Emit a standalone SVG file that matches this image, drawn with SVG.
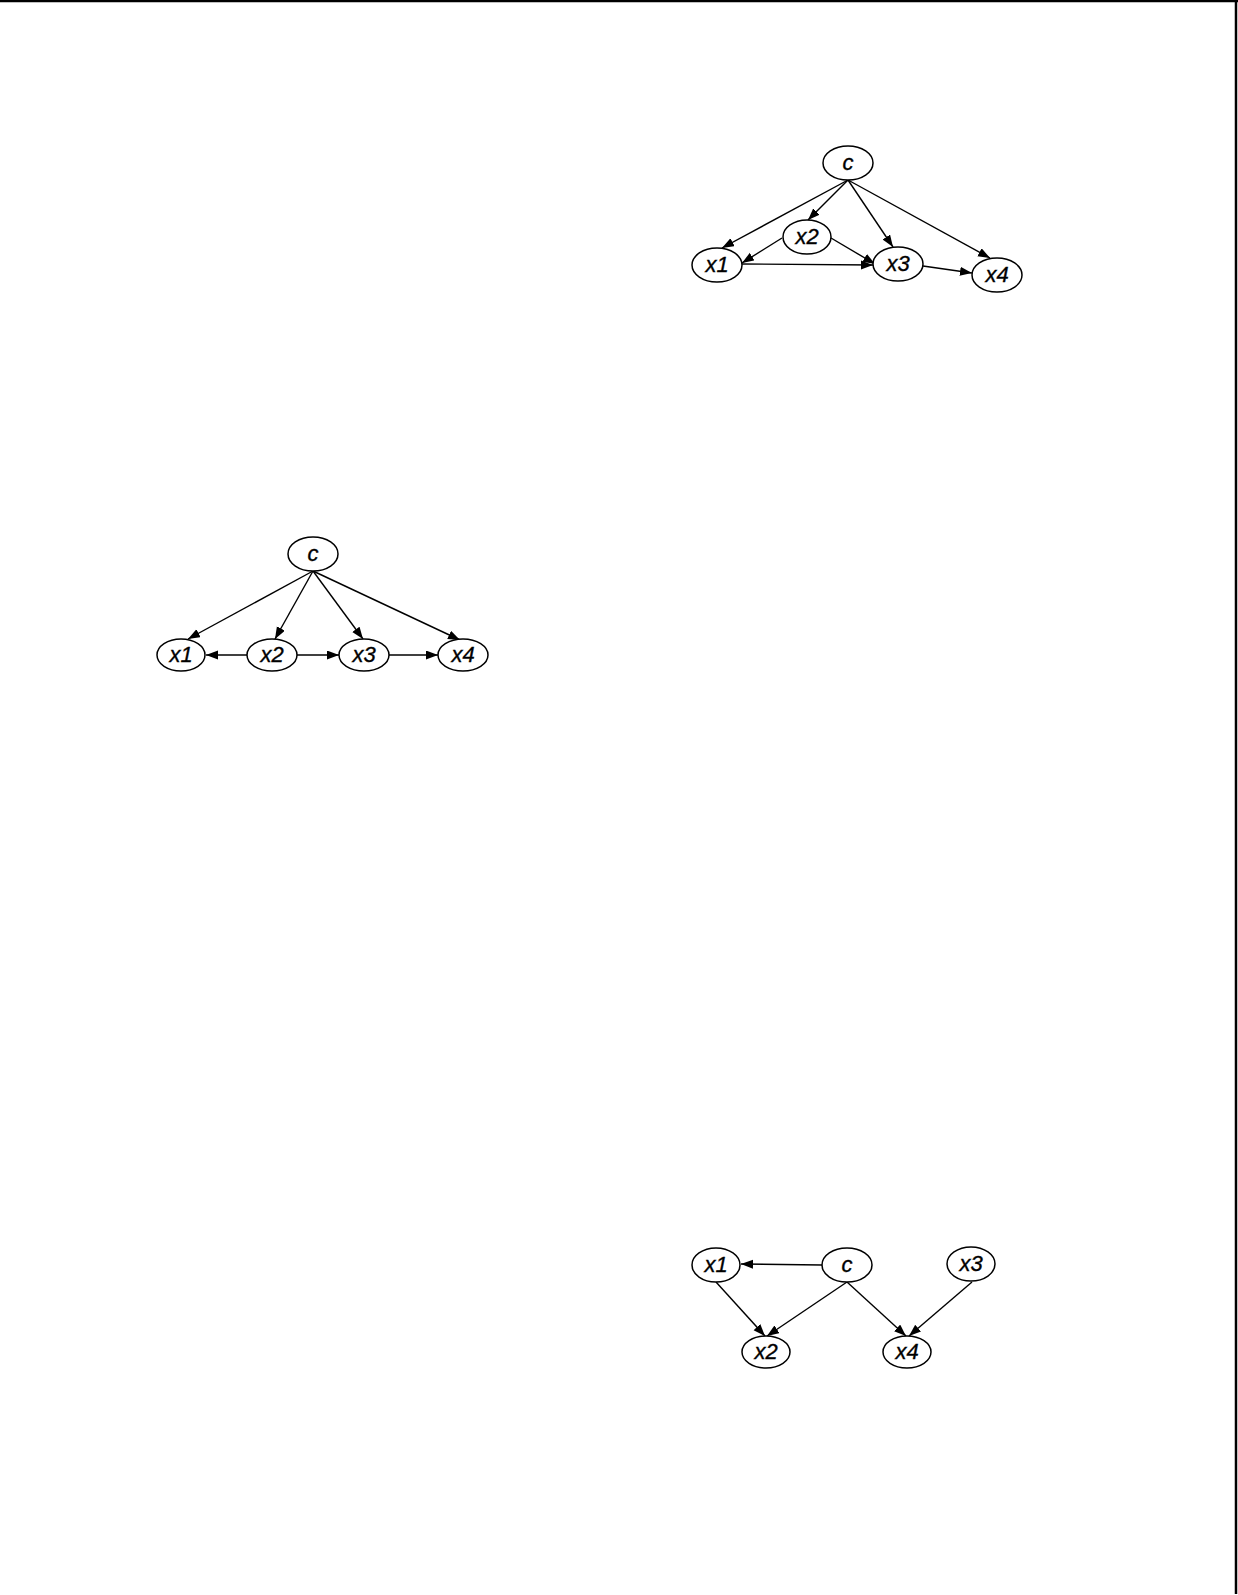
<svg xmlns="http://www.w3.org/2000/svg" width="1238" height="1595" viewBox="0 0 1238 1595">
<style>
.n ellipse{fill:#fff;stroke:#000;stroke-width:1.5}
.n text{font-family:"Liberation Sans",Arial,sans-serif;font-style:italic;font-size:22px;text-anchor:middle;fill:#000;stroke:#000;stroke-width:0.35}
.e line{stroke:#000;stroke-width:1.4;marker-end:url(#ah)}
.b{stroke:#000;stroke-width:2.5;fill:none}
</style>
<defs>
<marker id="ah" markerUnits="userSpaceOnUse" markerWidth="13" markerHeight="10" refX="12" refY="4.5" orient="auto">
<path d="M0,0 L12,4.5 L0,9 z" fill="#000"/>
</marker>
</defs>
<rect width="1238" height="1595" fill="#fff"/>
<line class="b" x1="0" y1="1" x2="1238" y2="1"/>
<line class="b" x1="1236" y1="0" x2="1236" y2="1594"/>

<g id="connectors" class="e">
<!-- diagram 1 -->
<line x1="848" y1="180" x2="722" y2="248"/>
<line x1="848" y1="180" x2="808" y2="220"/>
<line x1="848" y1="180" x2="893" y2="247"/>
<line x1="848" y1="180" x2="990" y2="258"/>
<line x1="782" y1="238" x2="742" y2="263"/>
<line x1="831" y1="238" x2="875" y2="264"/>
<line x1="742" y1="264" x2="873" y2="265"/>
<line x1="923" y1="266" x2="972" y2="273"/>
<!-- diagram 2 -->
<line x1="313" y1="571" x2="188" y2="639"/>
<line x1="313" y1="571" x2="275" y2="639"/>
<line x1="313" y1="571" x2="363" y2="639"/>
<line x1="313" y1="571" x2="460" y2="640"/>
<line x1="247" y1="655" x2="206" y2="655"/>
<line x1="297" y1="655" x2="339" y2="655"/>
<line x1="389" y1="655" x2="438" y2="655"/>
<!-- diagram 3 -->
<line x1="822" y1="1265" x2="741" y2="1264"/>
<line x1="716" y1="1282" x2="765" y2="1336"/>
<line x1="847" y1="1282" x2="767" y2="1336"/>
<line x1="847" y1="1282" x2="906" y2="1336"/>
<line x1="972" y1="1282" x2="909" y2="1336"/>
</g>

<g id="d1-c" class="n"><ellipse cx="848" cy="163" rx="25" ry="17"/><text x="848" y="170">c</text></g>
<g id="d1-x2" class="n"><ellipse cx="807" cy="237" rx="24" ry="17"/><text x="807" y="244">x2</text></g>
<g id="d1-x1" class="n"><ellipse cx="717" cy="265" rx="25" ry="17"/><text x="717" y="272">x1</text></g>
<g id="d1-x3" class="n"><ellipse cx="898" cy="264" rx="25" ry="17"/><text x="898" y="271">x3</text></g>
<g id="d1-x4" class="n"><ellipse cx="997" cy="275" rx="25" ry="17"/><text x="997" y="282">x4</text></g>

<g id="d2-c" class="n"><ellipse cx="313" cy="554" rx="25" ry="17"/><text x="313" y="561">c</text></g>
<g id="d2-x1" class="n"><ellipse cx="181" cy="655" rx="24" ry="16"/><text x="181" y="662">x1</text></g>
<g id="d2-x2" class="n"><ellipse cx="272" cy="655" rx="25" ry="16"/><text x="272" y="662">x2</text></g>
<g id="d2-x3" class="n"><ellipse cx="364" cy="655" rx="25" ry="16"/><text x="364" y="662">x3</text></g>
<g id="d2-x4" class="n"><ellipse cx="463" cy="655" rx="25" ry="16"/><text x="463" y="662">x4</text></g>

<g id="d3-x1" class="n"><ellipse cx="716" cy="1265" rx="24" ry="17"/><text x="716" y="1272">x1</text></g>
<g id="d3-c" class="n"><ellipse cx="847" cy="1265" rx="25" ry="17"/><text x="847" y="1272">c</text></g>
<g id="d3-x3" class="n"><ellipse cx="971" cy="1264" rx="24" ry="17"/><text x="971" y="1271">x3</text></g>
<g id="d3-x2" class="n"><ellipse cx="766" cy="1352" rx="24" ry="16"/><text x="766" y="1359">x2</text></g>
<g id="d3-x4" class="n"><ellipse cx="907" cy="1352" rx="24" ry="16"/><text x="907" y="1359">x4</text></g>
</svg>
